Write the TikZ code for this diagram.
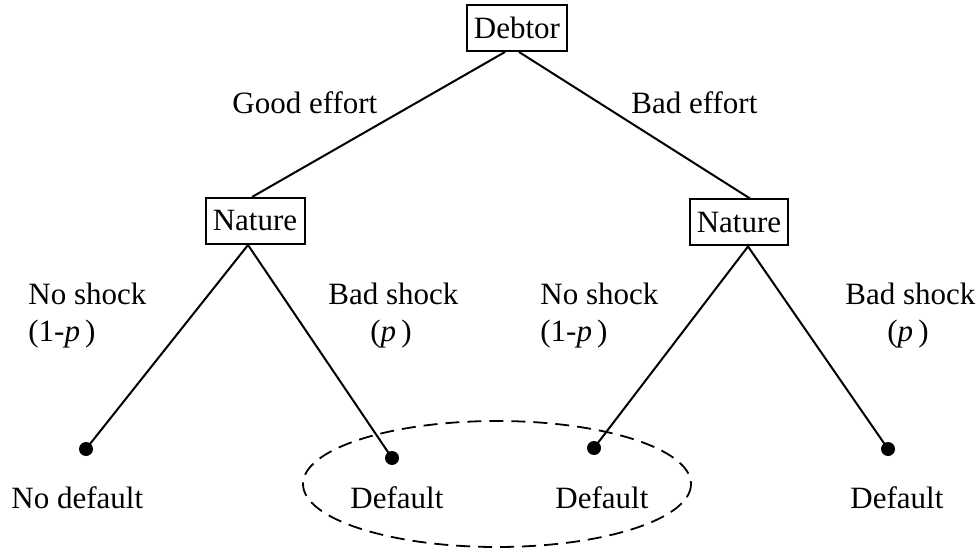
\documentclass[tikz,border=0pt]{standalone}
\usepackage{fontspec}
\setmainfont{Liberation Serif}
\begin{document}
\begin{tikzpicture}[x=0.5pt,y=-0.5pt,
  player/.style={draw,line width=1pt,inner sep=0pt,minimum height=23pt,font=\fontsize{15.5}{18}\selectfont},
  dot/.style={circle,fill=black,inner sep=0pt,minimum size=7pt},
  lbl/.style={inner sep=0pt,font=\fontsize{15.5}{18}\selectfont},
  edge/.style={line width=1pt}]
\useasboundingbox (0,0) rectangle (977,549);
% players
\node[player,minimum width=50pt] (deb) at (517,28) {Debtor};
\node[player,minimum width=49.5pt] (nl) at (255,221) {Nature};
\node[player,minimum width=49pt] (nr) at (739,222.5) {Nature};
% terminal dots
\node[dot] (t1) at (86,449) {};
\node[dot] (t2) at (392,458) {};
\node[dot] (t3) at (594,448) {};
\node[dot] (t4) at (888,449) {};
% edges
\draw[edge] ([xshift=-6pt]deb.south) -- ([xshift=-1.5pt]nl.north);
\draw[edge] ([xshift=1pt]deb.south) -- ([xshift=5.5pt]nr.north);
\draw[edge] ([xshift=-3.5pt]nl.south) -- (t1.center);
\draw[edge] ([xshift=-3.5pt]nl.south) -- (t2.center);
\draw[edge] ([xshift=4.5pt]nr.south) -- (t3.center);
\draw[edge] ([xshift=4.5pt]nr.south) -- (t4.center);
% information set
\draw[line width=0.9pt,dash pattern=on 7pt off 4pt] (497,484) ellipse [x radius=194, y radius=63];
% labels
\node[lbl,anchor=base west] (ge) at (232,114) {Good effort};
\node[lbl,anchor=base west] (be) at (631,114) {Bad effort};
\node[lbl,anchor=base west] (ns1) at (28,305) {No shock};
\node[lbl,anchor=base west] (np1) at (28,342) {(1-\textit{p}\,)};
\node[lbl,anchor=base west] (bs1) at (328,305) {Bad shock};
\node[lbl,anchor=base] (bp1) at (391,342) {(\textit{p}\,)};
\node[lbl,anchor=base west] (ns2) at (540,305) {No shock};
\node[lbl,anchor=base west] (np2) at (540,342) {(1-\textit{p}\,)};
\node[lbl,anchor=base west] (bs2) at (845,305) {Bad shock};
\node[lbl,anchor=base] (bp2) at (908,342) {(\textit{p}\,)};
\node[lbl,anchor=base west] (o1) at (11,508) {No default};
\node[lbl,anchor=base west] (o2) at (350,508) {Default};
\node[lbl,anchor=base west] (o3) at (555,508) {Default};
\node[lbl,anchor=base west] (o4) at (850,508) {Default};
\end{tikzpicture}
\end{document}
